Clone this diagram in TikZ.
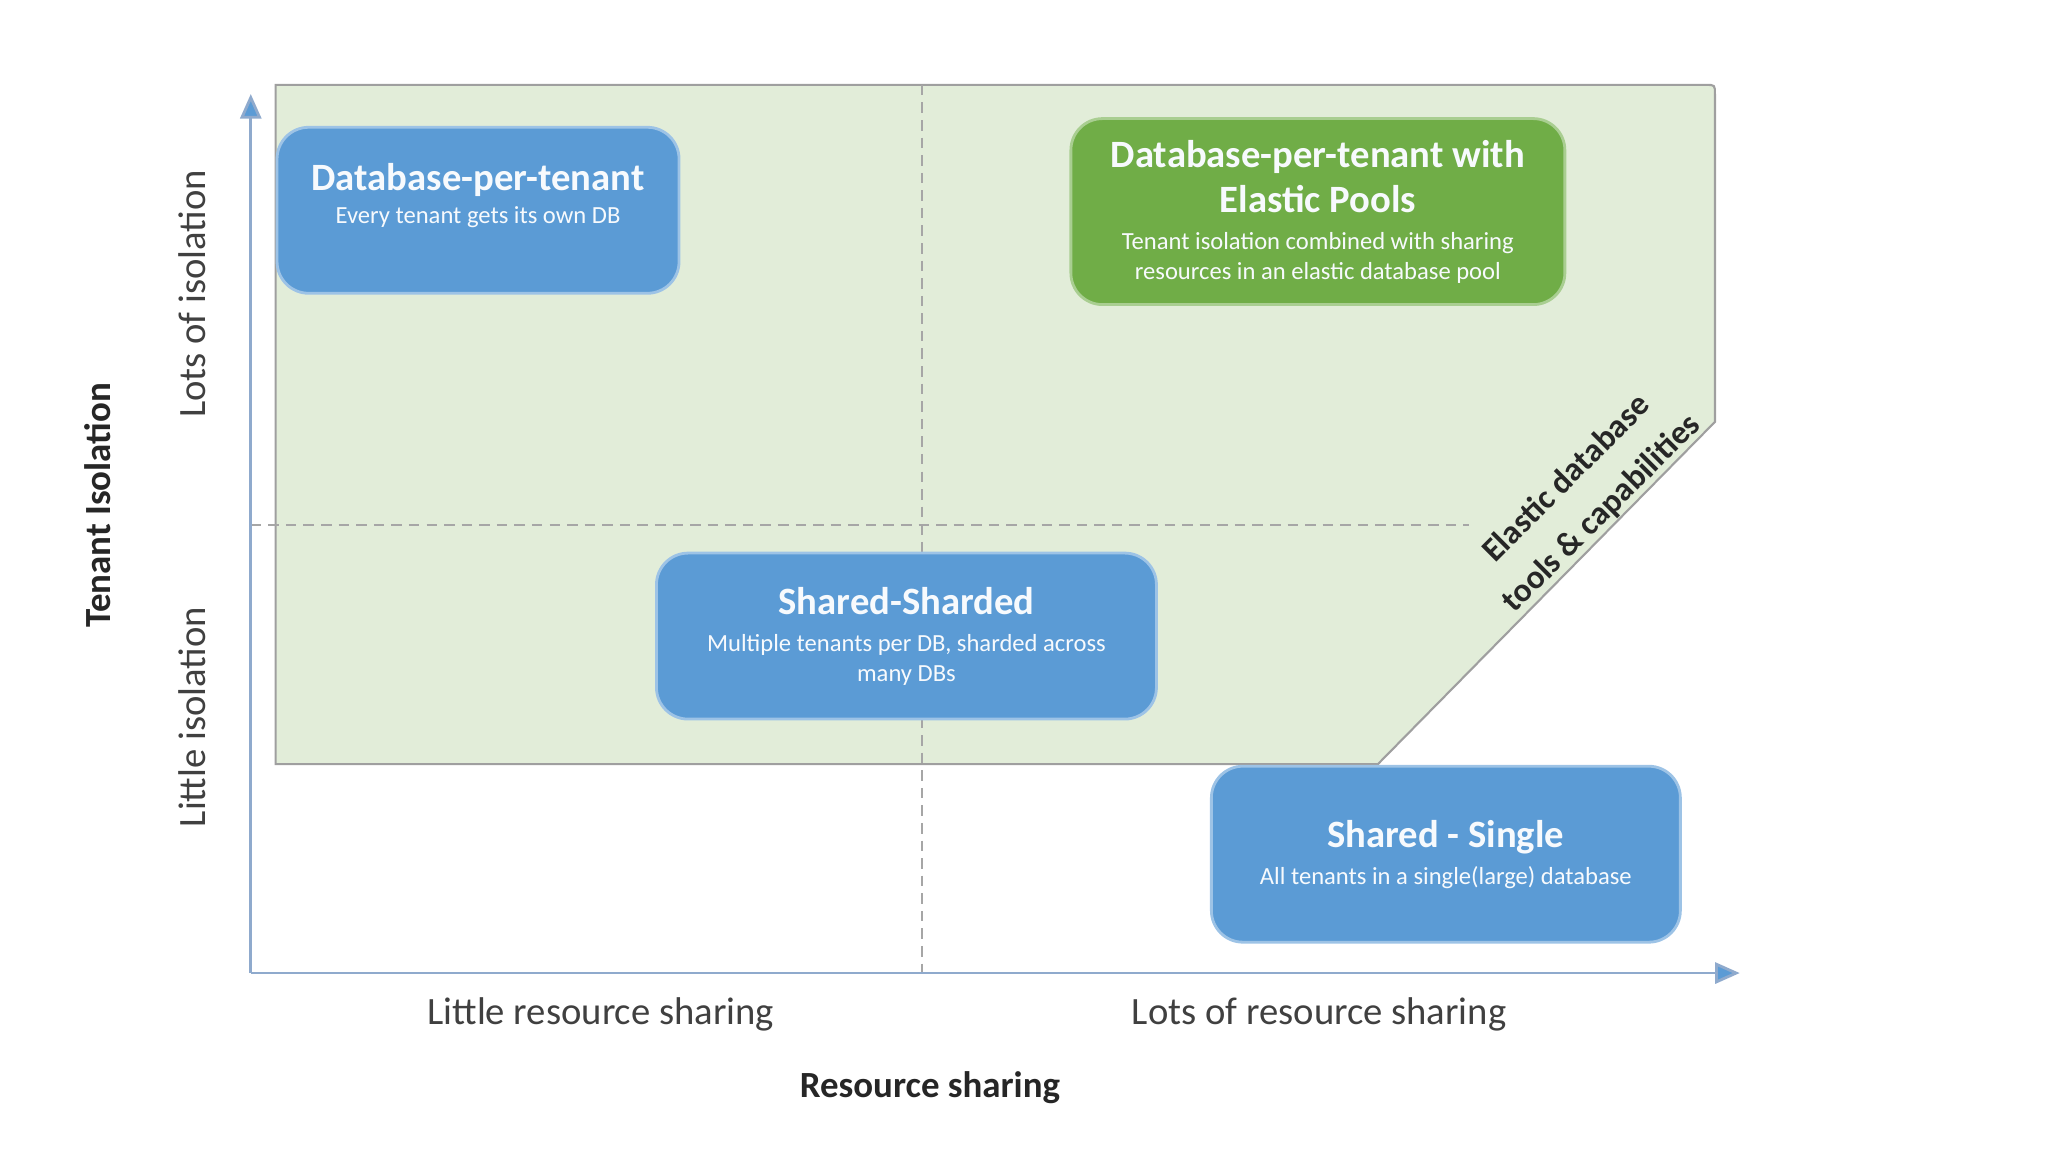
\documentclass[tikz,border=0pt]{standalone}
\usepackage{fontspec}
\setmainfont{Carlito}
\usepackage{xcolor}
\definecolor{tileblue}{RGB}{91,155,213}
\definecolor{tilegreen}{RGB}{112,173,71}
\definecolor{zonegreen}{RGB}{226,237,217}
\definecolor{axisblue}{RGB}{143,170,205}
\definecolor{labelgray}{RGB}{64,64,64}
\usetikzlibrary{arrows.meta, positioning}
\newcommand{\tiletitle}[1]{{\fontsize{11}{13}\selectfont\bfseries #1}}

\begin{document}
\begin{tikzpicture}[x=0.013061cm, y=-0.013061cm,
        tile/.style={draw=tileblue!60!white, line width=0.8pt, rounded corners=9pt,
                     inner sep=0pt, align=center, text=white!95!tileblue,
                     font=\fontsize{7}{8.5}\selectfont},
        axis/.style={draw=axisblue, line width=0.8pt,
                     -{Triangle[length=7pt, width=6pt, fill=tileblue]}},
        divider/.style={draw=gray!70, line width=0.4pt, densely dashed},
        axislabel/.style={text=labelgray, font=\fontsize{11}{13}\selectfont},
        axistitle/.style={text=black!85, font=\fontsize{10.5}{12}\selectfont\bfseries}
      ]
        \useasboundingbox (0,0) rectangle (1568,882);
        % shaded zone
        \draw[fill=zonegreen, draw=gray!75, line width=0.6pt]
          (211,585) -- (211,65) -- (1306,65) .. controls (1313,65) .. (1313,72)
          -- (1313,323) -- (1055,585) -- cycle;
        \coordinate (origin) at (192,745);
        \coordinate (ytop) at (192,72);
        \coordinate (xend) at (1332,745);
        \coordinate (vtop) at (706,65);
        \coordinate (vbot) at (706,745);
        \coordinate (hleft) at (192,402);
        \coordinate (hright) at (1125,402);
        \draw[divider] (vtop) -- (vbot);
        \draw[divider] (hleft) -- (hright);
        \draw[axis] (origin) -- (ytop);
        \draw[axis] (origin) -- (xend);
        \node[tile, fill=tileblue, minimum width=4.02cm, minimum height=1.66cm]
          (dbtenant) at (366,161) {\tiletitle{Database-per-tenant}\\[1pt]
          Every tenant gets its own DB\\[1pt]};
        \node[tile, fill=tilegreen, draw=tilegreen!60!white, minimum width=4.94cm,
          minimum height=1.86cm] (pools) at (1009,162)
          {\tiletitle{Database-per-tenant with}\\[2.5pt]\tiletitle{Elastic Pools}\\[2pt]
          Tenant isolation combined with sharing\\resources in an elastic database pool};
        \node[tile, fill=tileblue, minimum width=5.0cm, minimum height=1.66cm]
          (sharded) at (694,487) {\tiletitle{Shared-Sharded}\\[2pt]
          Multiple tenants per DB, sharded across\\many DBs};
        \node[tile, fill=tileblue, minimum width=4.69cm, minimum height=1.76cm]
          (single) at (1107,654) {\tiletitle{Shared - Single}\\[2pt]
          All tenants in a single(large) database};
        \node[rotate=45, align=center, text=black!85,
          font=\fontsize{9.5}{14}\selectfont\bfseries] (elastic) at (1213,380)
          {Elastic database\\tools \& capabilities};
        \node[axislabel, rotate=90] (lotsiso) at (147,225) {Lots of isolation};
        \node[axislabel, rotate=90] (littleiso) at (147,549) {Little isolation};
        \node[axistitle, rotate=90] (isotitle) at (75,387) {Tenant Isolation};
        \node[axislabel] (littleshare) at (460,777) {Little resource sharing};
        \node[axislabel] (lotsshare) at (1010,777) {Lots of resource sharing};
        \node[axistitle] (sharetitle) at (712,833) {Resource sharing};
      \end{tikzpicture}
\end{document}
